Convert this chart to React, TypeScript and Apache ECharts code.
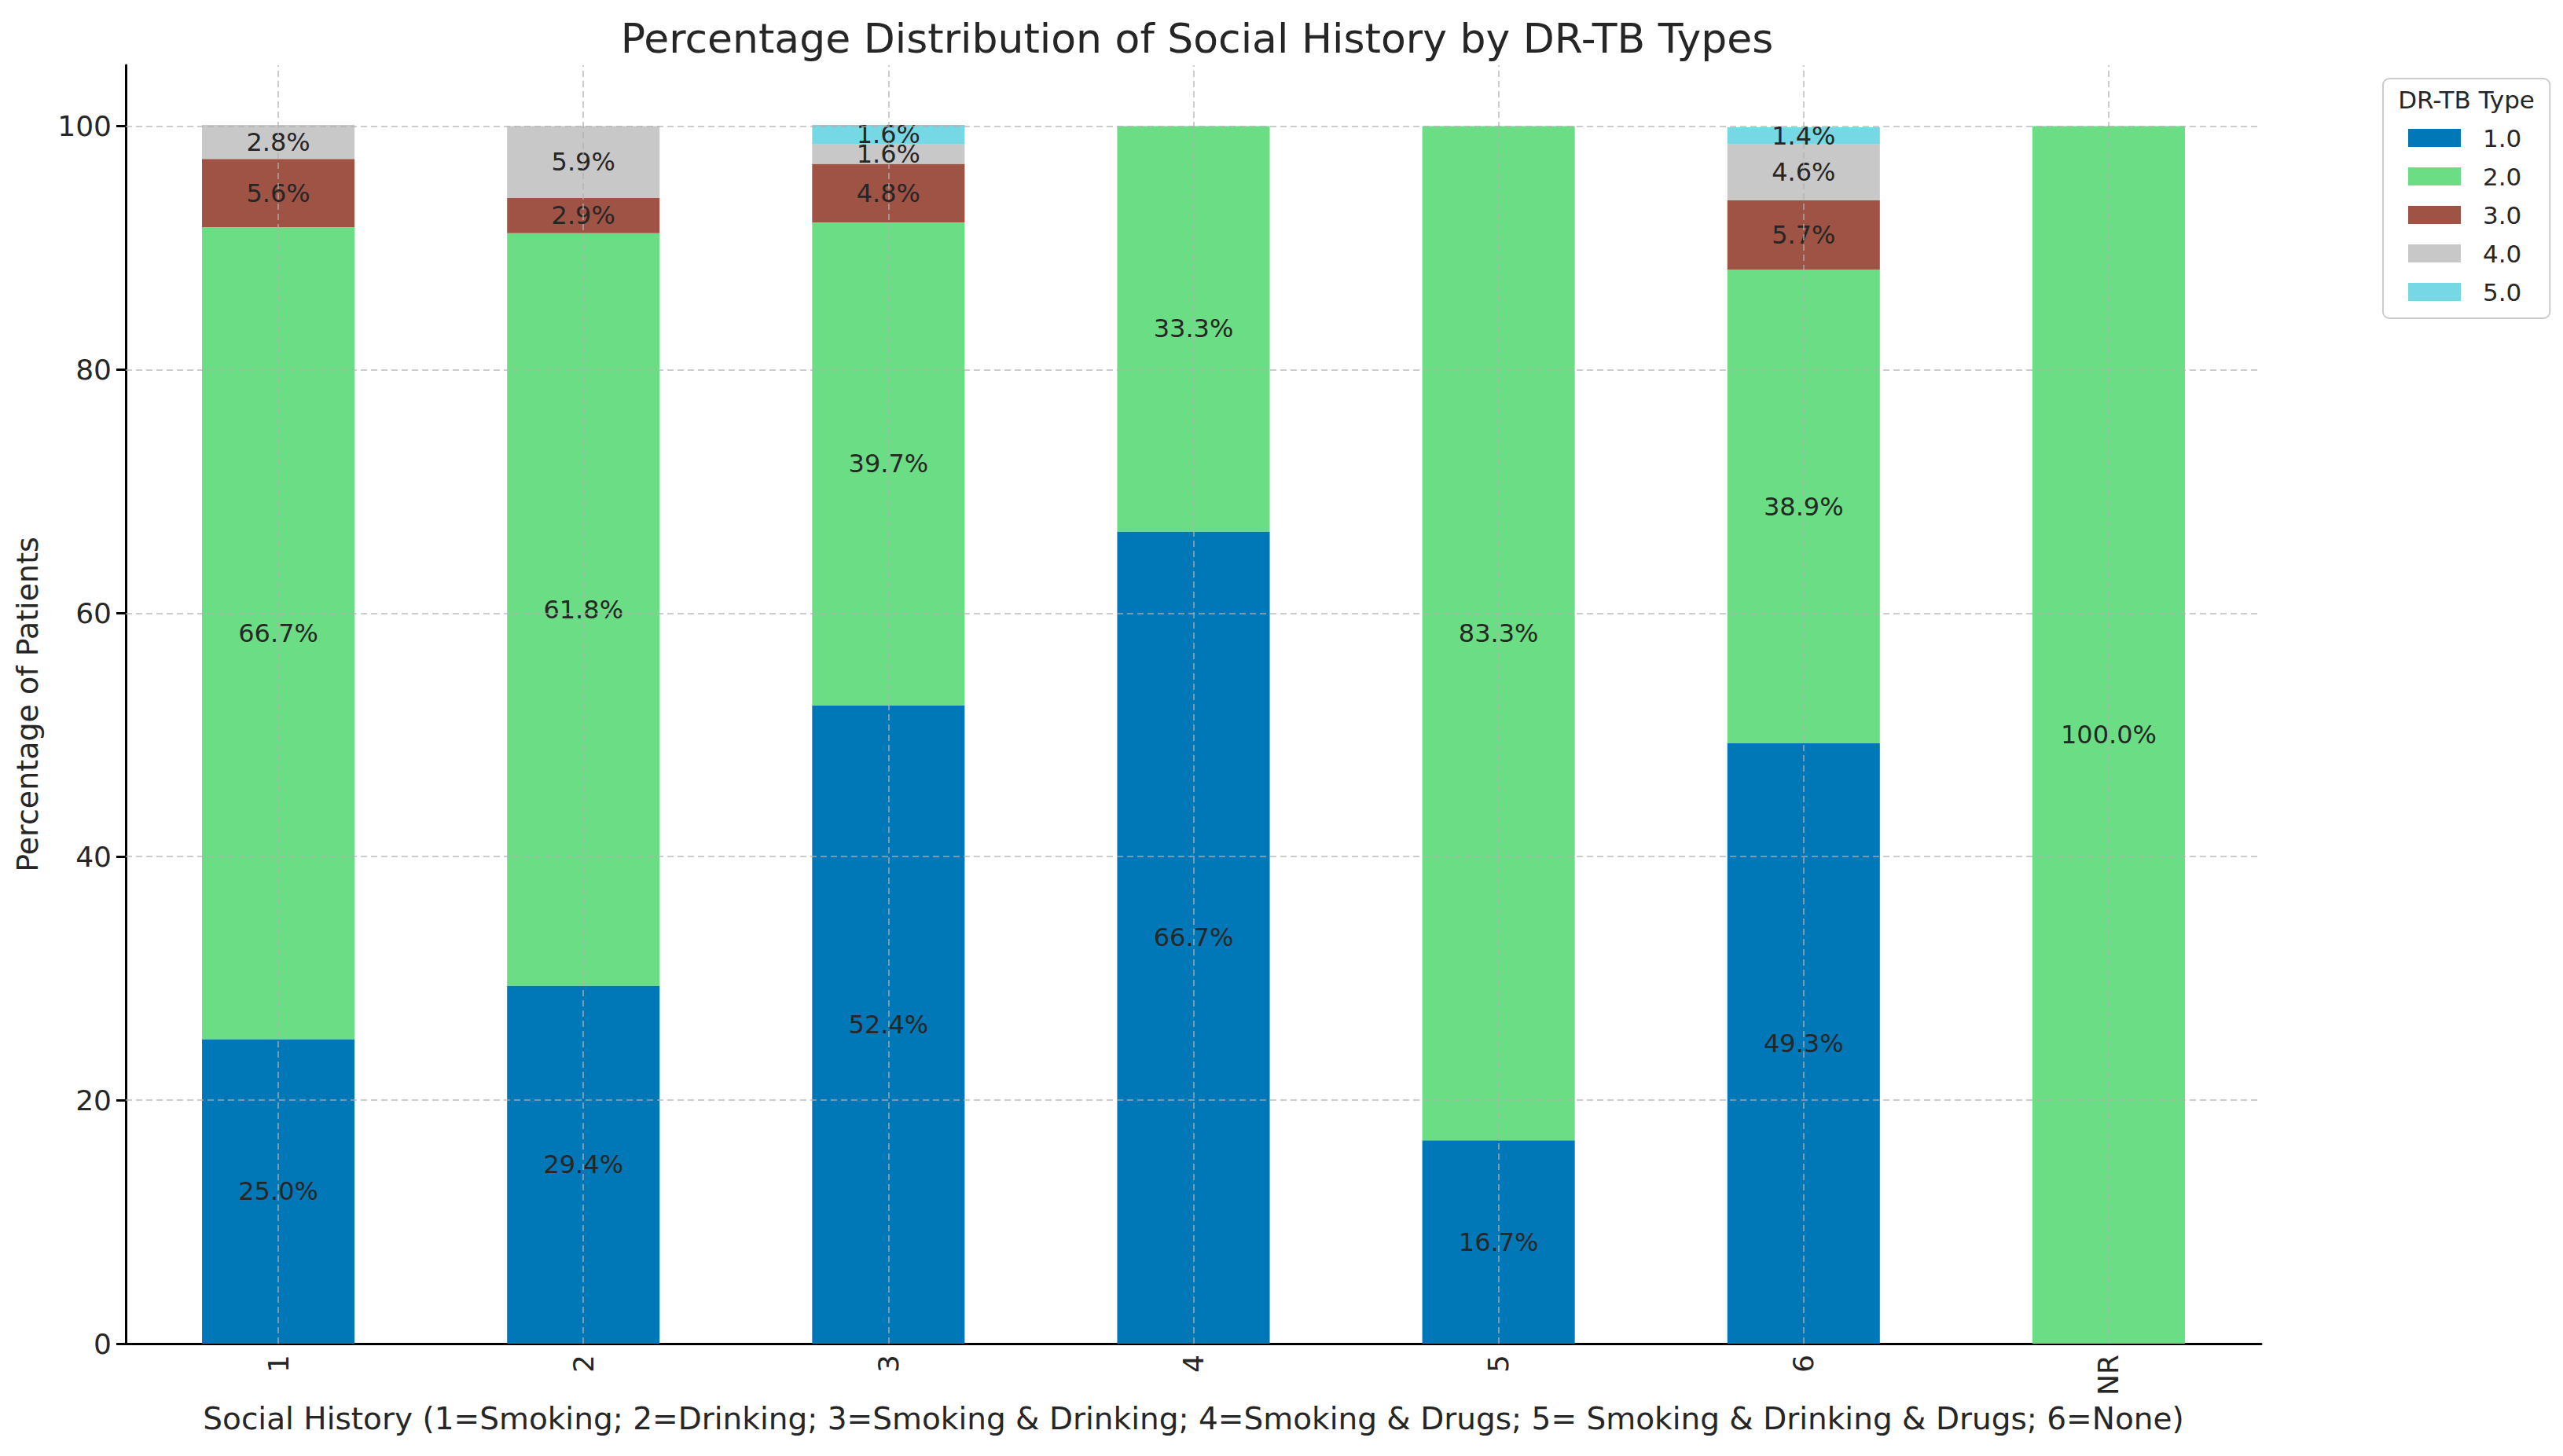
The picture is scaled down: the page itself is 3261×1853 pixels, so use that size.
import * as echarts from 'echarts';
import { useEffect, useRef } from 'react';

const categories = ['1', '2', '3', '4', '5', '6', 'NR'];
const seriesNames = ['1.0', '2.0', '3.0', '4.0', '5.0'];
const type1 = [25.0, 29.4, 52.4, 66.7, 16.7, 49.3, 0];
const type2 = [66.7, 61.8, 39.7, 33.3, 83.3, 38.9, 100.0];
const type3 = [5.6, 2.9, 4.8, 0, 0, 5.7, 0];
const type4 = [2.8, 5.9, 1.6, 0, 0, 4.6, 0];
const type5 = [0, 0, 1.6, 0, 0, 1.4, 0];
const yTicks = [0, 20, 40, 60, 80, 100];

const colors = ['#0077b7', '#6bde85', '#9f5345', '#c8c8c8', '#76d8e4'];
const font = 'DejaVu Sans';
const ink = '#262626';
const gridLine = {
  color: 'rgba(176,176,176,0.65)',
  type: [8, 5] as number[],
  width: 2,
};

export default function App() {
  const containerRef = useRef<HTMLDivElement>(null);

  useEffect(() => {
    const chart = echarts.init(containerRef.current!, undefined, { renderer: 'svg' });
    const values = [type1, type2, type3, type4, type5];

    const series: any[] = values.map((data, i) => ({
      type: 'bar',
      name: seriesNames[i],
      stack: 'total',
      barWidth: '50%',
      data,
      itemStyle: { color: colors[i] },
      label: {
        show: true,
        position: 'inside',
        fontFamily: font,
        fontSize: 32,
        color: ink,
        formatter: (p: { value: number }) => (p.value > 0 ? `${p.value.toFixed(1)}%` : ''),
      },
      emphasis: { disabled: true },
    }));

    // grid lines drawn on top of the bars, as in the reference
    series[series.length - 1].markLine = {
      silent: true,
      symbol: ['none', 'none'],
      label: { show: false },
      lineStyle: gridLine,
      emphasis: { disabled: true },
      data: [
        ...categories.map((c) => ({ xAxis: c })),
        ...yTicks.filter((v) => v > 0).map((v) => ({ yAxis: v })),
      ],
    };

    chart.setOption({
      animation: false,
      backgroundColor: '#ffffff',
      textStyle: { fontFamily: font },
      title: {
        text: 'Percentage Distribution of Social History by DR-TB Types',
        left: 1518,
        top: 18,
        textAlign: 'center',
        textStyle: { fontFamily: font, fontSize: 52, fontWeight: 'normal', color: ink },
      },
      legend: {
        orient: 'vertical',
        left: 3032,
        top: 100,
        data: seriesNames,
        icon: 'rect',
        itemWidth: 67,
        itemHeight: 23,
        itemGap: 18,
        padding: [60, 36, 18, 32],
        backgroundColor: '#ffffff',
        borderColor: '#cccccc',
        borderWidth: 2,
        borderRadius: 8,
        selectedMode: false,
        textStyle: { fontFamily: font, fontSize: 31, color: ink, padding: [0, 0, 0, 23] },
      },
      graphic: [
        {
          type: 'text',
          x: 3138,
          y: 127,
          z: 100,
          style: {
            text: 'DR-TB Type',
            fontFamily: font,
            fontSize: 31,
            fill: ink,
            align: 'center',
            verticalAlign: 'middle',
          },
        },
      ],
      grid: { left: 160, right: 384, top: 83, bottom: 143, containLabel: false, outerBoundsMode: 'none' },
      xAxis: {
        type: 'category',
        data: categories,
        name: 'Social History (1=Smoking; 2=Drinking; 3=Smoking & Drinking; 4=Smoking & Drugs; 5= Smoking & Drinking & Drugs; 6=None)',
        nameLocation: 'middle',
        nameGap: 76,
        nameTextStyle: { fontFamily: font, fontSize: 39, color: ink },
        axisLine: { lineStyle: { color: '#000000', width: 3 } },
        axisTick: { alignWithLabel: true, inside: true, length: 12, lineStyle: { color: '#000000', width: 3 } },
        axisLabel: { rotate: 90, fontFamily: font, fontSize: 36, color: ink, margin: 14 },
        splitLine: { show: false },
      },
      yAxis: {
        type: 'value',
        min: 0,
        max: 105,
        name: 'Percentage of Patients',
        nameLocation: 'middle',
        nameRotate: 90,
        nameGap: 106,
        nameTextStyle: { fontFamily: font, fontSize: 38, color: ink },
        axisLine: { show: true, lineStyle: { color: '#000000', width: 3 } },
        axisTick: { show: true, customValues: yTicks, length: 12, lineStyle: { color: '#000000', width: 3 } },
        axisLabel: { customValues: yTicks, fontFamily: font, fontSize: 36, color: ink, margin: 18 },
        splitLine: { show: false },
      },
      series,
    });

    return () => chart.dispose();
  }, []);

  return (
    <div
      ref={containerRef}
      style={{ position: 'fixed', left: 0, top: 0, width: 3261, height: 1853 }}
    />
  );
}
